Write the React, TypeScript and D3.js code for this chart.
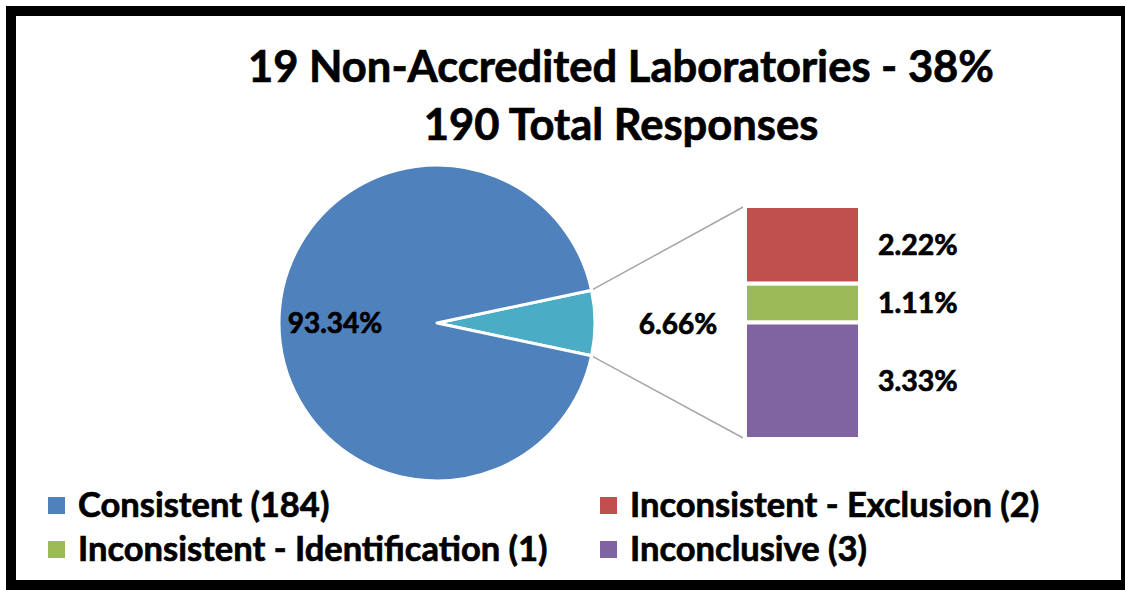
import * as React from 'react';
import { pie, arc, scaleLinear, type PieArcDatum } from 'd3';

const titleLines = ['19 Non-Accredited Laboratories - 38%', '190 Total Responses'];

// main pie: consistent vs. the "other" slice that is broken out into the bar
const pieNames = ['Other', 'Consistent'];
const piePercents = [6.66, 93.34];
const pieLabels = ['6.66%', '93.34%'];
const pieColors = ['#4BACC6', '#4F81BD'];

// bar of pie, top to bottom
const barNames = ['Inconsistent - Exclusion', 'Inconsistent - Identification', 'Inconclusive'];
const barPercents = [2.22, 1.11, 3.33];
const barLabels = ['2.22%', '1.11%', '3.33%'];
const barColors = ['#C0504D', '#9BBB59', '#8064A2'];

const legendNames = ['Consistent (184)', 'Inconsistent - Exclusion (2)', 'Inconsistent - Identification (1)', 'Inconclusive (3)'];
const legendColors = ['#4F81BD', '#C0504D', '#9BBB59', '#8064A2'];

const W = 1125;
const H = 590;
const FONT = 'Lato, "Open Sans", sans-serif';

export default function App() {
  const cx = 437, cy = 323, r = 158;
  const otherAngle = (piePercents[0] / 100) * Math.PI * 2;
  const start = Math.PI / 2 - otherAngle / 2;

  const slices = pie<number>().sort(null).startAngle(start).endAngle(start + Math.PI * 2)(piePercents);
  const arcGen = arc<PieArcDatum<number>>().innerRadius(0).outerRadius(r);

  const pt = (a: number) => [cx + r * Math.sin(a), cy - r * Math.cos(a)];
  const [p1x, p1y] = pt(slices[0].startAngle);
  const [p2x, p2y] = pt(slices[0].endAngle);

  const barX = 745, barW = 115;
  const barTotal = barPercents.reduce((s, v) => s + v, 0);
  const y = scaleLinear().domain([0, barTotal]).range([206, 439]);
  let acc = 0;
  const segs = barPercents.map((v, i) => {
    const s = { y0: y(acc), y1: y(acc + v), i };
    acc += v;
    return s;
  });

  // thin outline thickens Lato a bit towards Calibri Bold
  const txt = { fill: '#000', stroke: '#000', strokeWidth: 0.7 };

  return (
    <svg width={W} height={H} style={{ position: 'fixed', left: 0, top: 0 }} fontFamily={FONT} fontWeight="bold">
      <rect x={0} y={0} width={W} height={H} fill="#fff" />
      <rect x={11} y={11} width={1115} height={574} fill="#fff" stroke="#000" strokeWidth={10} />

      {titleLines.map((t, i) => (
        <text key={t} x={621} y={82 + i * 58} textAnchor="middle" fontSize={43.5} {...txt}>{t}</text>
      ))}

      {/* connectors */}
      <line x1={p1x} y1={p1y} x2={barX} y2={y(0)} stroke="#A6A6A6" strokeWidth={1.5} />
      <line x1={p2x} y1={p2y} x2={barX} y2={y(barTotal)} stroke="#A6A6A6" strokeWidth={1.5} />

      <g transform={`translate(${cx},${cy})`}>
        {slices.map((d, i) => (
          <path key={pieNames[i]} d={arcGen(d) ?? ''} fill={pieColors[i]} stroke="#fff" strokeWidth={3} strokeLinejoin="round" />
        ))}
      </g>
      <text x={335} y={333} textAnchor="middle" fontSize={28} {...txt}>{pieLabels[1]}</text>
      <text x={678} y={334} textAnchor="middle" fontSize={28} {...txt}>{pieLabels[0]}</text>

      {segs.map(s => (
        <g key={barNames[s.i]}>
          <rect x={barX} y={s.y0} width={barW} height={s.y1 - s.y0} fill={barColors[s.i]} stroke="#fff" strokeWidth={4} />
          <text x={878} y={(s.y0 + s.y1) / 2} dy="0.36em" fontSize={28.5} {...txt}>{barLabels[s.i]}</text>
        </g>
      ))}

      {legendNames.map((n, i) => {
        const lx = i % 2 === 0 ? 48 : 600;
        const ly = i < 2 ? 505 : 549;
        return (
          <g key={n}>
            <rect x={lx} y={ly - 8} width={17} height={17} fill={legendColors[i]} />
            <text x={lx + 30} y={ly} dy="0.36em" fontSize={34.5} {...txt}>{n}</text>
          </g>
        );
      })}
    </svg>
  );
}
